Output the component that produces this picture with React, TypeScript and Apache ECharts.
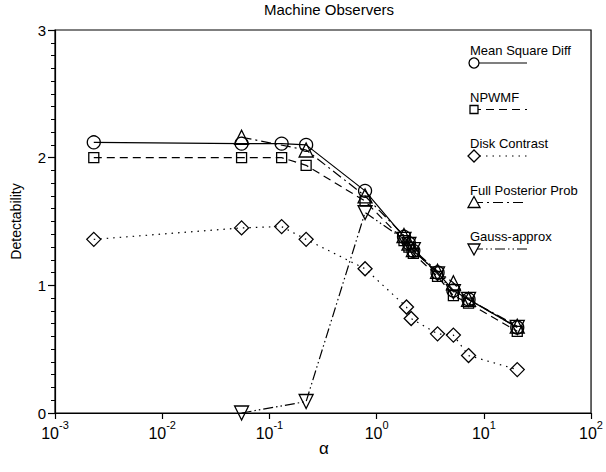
import React, { useEffect, useRef } from "react";
import * as echarts from "echarts";

const seriesNames = ["Mean Square Diff", "NPWMF", "Disk Contrast", "Full Posterior Prob", "Gauss-approx"];

const msdX = [0.0023, 0.055, 0.13, 0.22, 0.78, 1.8, 2.0, 2.2, 3.7, 5.2, 7.2, 20.5];
const msdY = [2.12, 2.11, 2.11, 2.1, 1.74, 1.38, 1.33, 1.27, 1.1, 0.96, 0.89, 0.67];

const npwmfX = [0.0023, 0.055, 0.13, 0.22, 0.78, 1.8, 2.0, 2.2, 3.7, 5.2, 7.2, 20.5];
const npwmfY = [2.0, 2.0, 2.0, 1.94, 1.66, 1.35, 1.3, 1.25, 1.07, 0.92, 0.86, 0.64];

const diskX = [0.0023, 0.055, 0.13, 0.22, 0.78, 1.9, 2.1, 3.7, 5.2, 7.2, 20.5];
const diskY = [1.36, 1.45, 1.46, 1.36, 1.13, 0.83, 0.74, 0.62, 0.61, 0.45, 0.34];

const fppX = [0.055, 0.22, 0.78, 1.8, 2.0, 2.2, 3.7, 5.2, 7.2, 20.5];
const fppY = [2.16, 2.06, 1.7, 1.39, 1.33, 1.28, 1.11, 1.02, 0.89, 0.68];

const gaussX = [0.055, 0.22, 0.78, 1.8, 2.0, 2.2, 3.7, 5.2, 7.2, 20.5];
const gaussY = [0.0, 0.09, 1.57, 1.36, 1.32, 1.28, 1.09, 0.95, 0.89, 0.67];

const yTicks = [0, 1, 2, 3];
const xAxisName = "α";

const FONT = "Liberation Sans, Arial, Helvetica, sans-serif";

const styles = [
  { symbol: "circle", size: 13, rotate: 0, dash: "solid" as any },
  { symbol: "rect", size: 10, rotate: 0, dash: [8, 5] as any },
  { symbol: "diamond", size: 14, rotate: 0, dash: [1.5, 5] as any },
  { symbol: "triangle", size: 14, rotate: 0, dash: [10, 4, 2, 4] as any },
  { symbol: "triangle", size: 14, rotate: 180, dash: [10, 3, 1.5, 3, 1.5, 3] as any },
];

export default function App() {
  const ref = useRef<HTMLDivElement>(null);
  useEffect(() => {
    if (!ref.current) return;
    const chart = echarts.init(ref.current, null, { renderer: "svg" });
    const xs = [msdX, npwmfX, diskX, fppX, gaussX];
    const ys = [msdY, npwmfY, diskY, fppY, gaussY];

    const series = seriesNames.map((name, i) => ({
      name,
      type: "line",
      data: xs[i].map((x, j) => [x, ys[i][j]]),
      symbol: styles[i].symbol,
      symbolSize: styles[i].size,
      symbolRotate: styles[i].rotate,
      showSymbol: true,
      lineStyle: { color: "#000", width: 1.2, type: styles[i].dash },
      itemStyle: { color: "rgba(255,255,255,0)", borderColor: "#000", borderWidth: 1.3 },
      z: 3,
    }));

    const graphics: any[] = [];
    seriesNames.forEach((name, i) => {
      const ty = 44 + i * 46.5;
      const sy = ty + 19;
      graphics.push({
        type: "text",
        left: 470,
        top: ty,
        style: { text: name, font: `13px ${FONT}`, fill: "#000" },
      });
      graphics.push({
        type: "line",
        shape: { x1: 473, y1: sy, x2: 527, y2: sy },
        style: { stroke: "#000", lineWidth: 1.2, lineDash: styles[i].dash === "solid" ? null : styles[i].dash },
      });
      const mstyle = { stroke: "#000", fill: "#fff", lineWidth: 1.3 };
      if (i === 0) graphics.push({ type: "circle", shape: { cx: 474, cy: sy, r: 5 }, style: mstyle });
      if (i === 1) graphics.push({ type: "rect", shape: { x: 470, y: sy - 4, width: 8, height: 8 }, style: mstyle });
      if (i === 2)
        graphics.push({
          type: "polygon",
          shape: { points: [[474, sy - 6], [480, sy], [474, sy + 6], [468, sy]] },
          style: mstyle,
        });
      if (i === 3)
        graphics.push({
          type: "polygon",
          shape: { points: [[474, sy - 6], [480, sy + 5], [468, sy + 5]] },
          style: mstyle,
        });
      if (i === 4)
        graphics.push({
          type: "polygon",
          shape: { points: [[474, sy + 6], [480, sy - 5], [468, sy - 5]] },
          style: mstyle,
        });
    });
    graphics.push({
      type: "text",
      x: 324,
      y: 448,
      style: { text: xAxisName, font: `17px ${FONT}`, fill: "#000", align: "center", verticalAlign: "middle" },
    });

    chart.setOption({
      animation: false,
      backgroundColor: "#fff",
      title: {
        text: "Machine Observers",
        left: 324,
        textAlign: "center",
        top: 0,
        padding: [2, 5, 5, 5],
        textStyle: { fontFamily: FONT, fontSize: 15, fontWeight: "normal", color: "#000" },
      },
      grid: {
        left: 55,
        right: 13,
        top: 30,
        bottom: 59,
        show: true,
        borderColor: "#000",
        borderWidth: 1.2,
        backgroundColor: "transparent",
      },
      xAxis: {
        type: "log",
        logBase: 10,
        min: 0.001,
        max: 100,
        axisLine: { show: true, lineStyle: { color: "#000", width: 1.2 } },
        axisTick: { show: true, inside: false, length: 6, lineStyle: { color: "#000", width: 1.2 } },
        minorTick: { show: false },
        splitLine: { show: false },
        axisLabel: {
          margin: 6,
          color: "#000",
          formatter: (v: number) => `{b|10}{s|${Math.round(Math.log10(v))}}`,
          rich: {
            b: { fontFamily: FONT, fontSize: 16, color: "#000", verticalAlign: "bottom", lineHeight: 22 },
            s: { fontFamily: FONT, fontSize: 11, color: "#000", verticalAlign: "top", lineHeight: 12 },
          },
        },
      },
      yAxis: {
        type: "value",
        min: 0,
        max: 3,
        interval: 1,
        name: "Detectability",
        nameLocation: "middle",
        nameGap: 32,
        nameTextStyle: { fontFamily: FONT, fontSize: 14, color: "#000" },
        axisLine: { show: true, lineStyle: { color: "#000", width: 1.2 } },
        axisTick: { show: true, inside: false, length: 7, lineStyle: { color: "#000", width: 1.2 } },
        minorTick: { show: true, splitNumber: 10, length: 4, lineStyle: { color: "#000", width: 1 } },
        splitLine: { show: false },
        axisLabel: {
          margin: 9,
          fontFamily: FONT,
          fontSize: 15,
          color: "#000",
          formatter: (v: number) => (yTicks.includes(v) ? String(v) : ""),
        },
      },
      series,
      graphic: graphics,
    });
    return () => chart.dispose();
  }, []);
  return <div ref={ref} style={{ width: 606, height: 472, position: "absolute", left: 0, top: 0 }} />;
}
